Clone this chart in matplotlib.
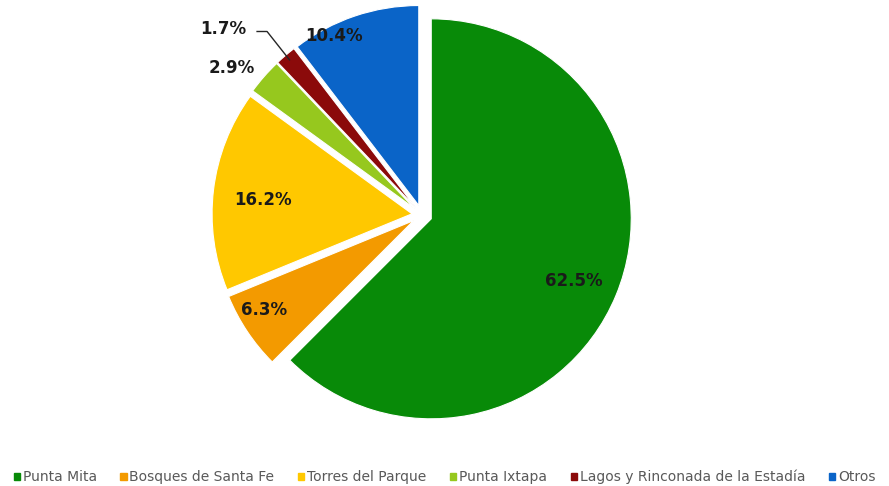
import numpy as np
import matplotlib
matplotlib.use("Agg")
import matplotlib.pyplot as plt

categories = ["Punta Mita", "Bosques de Santa Fe", "Torres del Parque",
              "Punta Ixtapa", "Lagos y Rinconada de la Estadía", "Otros"]
values = [62.5, 6.3, 16.2, 2.9, 1.7, 10.4]
colors = ["#088A08", "#F39A00", "#FFC800", "#96C81E", "#8B0A0A", "#0A64C8"]

# label placement style (radius factor, angle offset in degrees)
label_r = [0.83, 0.92, 0.80, 1.20, 1.36, 1.00]
label_da = [-1.0, -2.5, 1.5, 3.5, 6.5, 7.5]

plt.rcParams['font.family'] = ['DejaVu Sans']

fig = plt.figure(figsize=(8.89, 4.86), dpi=100)
cx, cy, half = 422, 215, 220
ax = fig.add_axes([(cx - half) / 889, (486 - cy - half) / 486, 2 * half / 889, 2 * half / 486])

explode = [0.05] * len(values)
wedges, _ = ax.pie(values, colors=colors, startangle=90, counterclock=False,
                   explode=explode, radius=1.0,
                   wedgeprops=dict(edgecolor="white", linewidth=0.8))
ax.set_xlim(-1.1, 1.1)
ax.set_ylim(-1.1, 1.1)
ax.set_aspect('equal')
ax.axis('off')

total = sum(values)
start = 90.0
for i, v in enumerate(values):
    sweep = 360.0 * v / total
    mid = start - sweep / 2
    start -= sweep
    ang = np.deg2rad(mid + label_da[i])
    x, y = label_r[i] * np.cos(ang), label_r[i] * np.sin(ang)
    ax.text(x, y, f"{v:.1f}%", ha="center", va="center", fontsize=12,
            fontweight="bold", color="#1a1a1a")
    if i == 4:
        # leader line for the small slice
        ang0 = np.deg2rad(mid)
        ex = 0.05 * np.cos(ang0)
        ey = 0.05 * np.sin(ang0)
        px, py = ex + 0.97 * np.cos(ang0), ey + 0.97 * np.sin(ang0)
        ax.plot([x + 0.17, x + 0.22, px], [y - 0.01, y - 0.01, py], color="#262626", lw=1.0)

handles = [plt.Rectangle((0, 0), 1, 1, color=c) for c in colors]
leg = fig.legend(handles, categories, loc="center", bbox_to_anchor=(0.5, 1 - 477 / 486),
                 ncol=6, frameon=False, fontsize=10, handlelength=0.45,
                 handleheight=0.45, handletextpad=0.2, columnspacing=1.7)
for t in leg.get_texts():
    t.set_color("#595959")

fig.savefig("out.png", dpi=100)
